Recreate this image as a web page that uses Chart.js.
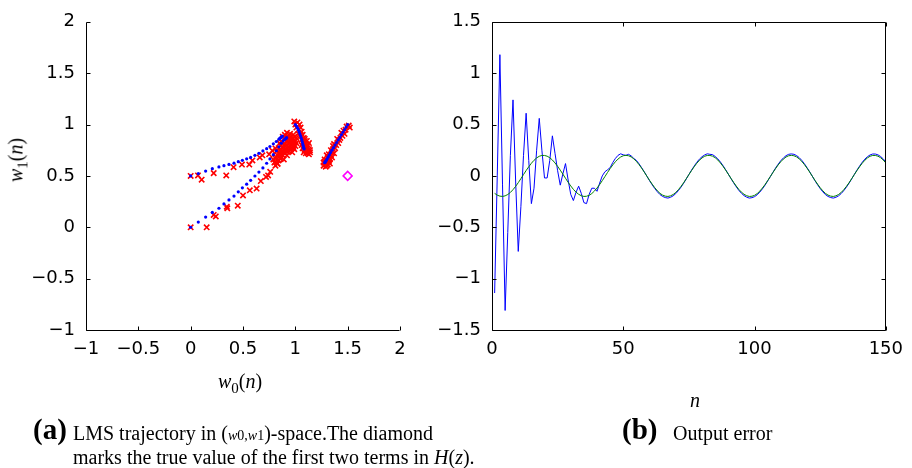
<!DOCTYPE html>
<html><head><meta charset="utf-8">
<script src="https://cdn.jsdelivr.net/npm/chart.js@4.4.0/dist/chart.umd.min.js"></script>
<style>
html,body{margin:0;padding:0;background:#fff;}
body{width:912px;height:468px;position:relative;overflow:hidden;font-family:"Liberation Serif","Times New Roman",serif;color:#000;}
canvas{position:absolute;left:0;top:0;}
.t{position:absolute;white-space:nowrap;color:#000;line-height:1;}
.sm{font-size:14px;}
</style></head><body>
<canvas id="c1" width="912" height="468"></canvas>
<canvas id="c2" width="912" height="468"></canvas>

<div class="t" style="left:18px;top:160px;transform:translate(-50%,-50%) rotate(-90deg);font-size:20px;"><i>w</i><sub style="font-size:15px">1</sub>(<i>n</i>)</div>
<div class="t" style="left:240px;top:383px;transform:translate(-50%,-50%);font-size:20px;"><i>w</i><sub style="font-size:15px">0</sub>(<i>n</i>)</div>
<div class="t" style="left:695px;top:400px;transform:translate(-50%,-50%);font-size:20px;"><i>n</i></div>

<div class="t" style="left:33px;top:415px;font-size:29px;font-weight:bold;">(a)</div>
<div class="t" style="left:73px;top:423px;font-size:20px;">LMS trajectory in (<span class="sm"><i>w</i>0,<i>w</i>1</span>)-space.The diamond</div>
<div class="t" style="left:73px;top:447px;font-size:20px;">marks the true value of the first two terms in <i>H</i>(<i>z</i>).</div>
<div class="t" style="left:622px;top:415px;font-size:29px;font-weight:bold;">(b)</div>
<div class="t" style="left:673px;top:423px;font-size:20px;">Output error</div>

<script>
// ---------- Panel (a): LMS trajectories in (w0, w1) space ----------
const axisTicksA = [-1, -0.5, 0, 0.5, 1, 1.5, 2];

const blueTrajA = [[0,0.5],[0.073,0.523],[0.143,0.547],[0.207,0.57],[0.27,0.587],[0.318,0.6],[0.366,0.612],[0.414,0.624],[0.455,0.638],[0.494,0.652],[0.535,0.666],[0.573,0.68],[0.614,0.7],[0.652,0.72],[0.69,0.743],[0.726,0.765],[0.757,0.786],[0.79,0.812],[0.818,0.835],[0.843,0.857],[0.852,0.865],[0.86,0.872],[0.866,0.878],[0.871,0.883],[0.876,0.888]];
const blueTrajB = [[0,0],[0.073,0.051],[0.143,0.099],[0.207,0.144],[0.27,0.185],[0.318,0.227],[0.366,0.266],[0.414,0.304],[0.455,0.345],[0.494,0.384],[0.535,0.419],[0.573,0.457],[0.614,0.499],[0.652,0.537],[0.69,0.578],[0.726,0.623],[0.757,0.665],[0.79,0.707],[0.818,0.745],[0.843,0.783],[0.866,0.818],[0.885,0.841],[0.9,0.856],[0.91,0.865],[0.917,0.872]];
const blueTrajC = [[1.0,1.0],[1.01,0.985],[1.02,0.968],[1.028,0.95],[1.036,0.93],[1.043,0.91],[1.05,0.89],[1.056,0.87],[1.062,0.85],[1.067,0.83],[1.071,0.81],[1.075,0.795],[1.078,0.78],[1.081,0.77],[1.083,0.762]];
const blueTrajD = [[1.5,1.0],[1.485,0.975],[1.47,0.95],[1.455,0.925],[1.44,0.9],[1.425,0.875],[1.41,0.85],[1.395,0.825],[1.38,0.8],[1.365,0.775],[1.35,0.75],[1.337,0.727],[1.325,0.705],[1.314,0.685],[1.304,0.667],[1.296,0.652],[1.289,0.641],[1.284,0.634],[1.28,0.628]];

const redTrajA = [[0,0.5],[0.07,0.505],[0.105,0.463],[0.22,0.527],[0.34,0.505],[0.41,0.585],[0.49,0.61],[0.56,0.61],[0.59,0.65],[0.66,0.68],[0.685,0.7],[0.75,0.71],[0.78,0.745],[0.81,0.767]];
const redTrajB = [[0,0],[0.153,0],[0.22,0.12],[0.24,0.105],[0.345,0.2],[0.35,0.185],[0.45,0.21],[0.5,0.31],[0.565,0.36],[0.63,0.377],[0.67,0.45],[0.72,0.49],[0.74,0.505],[0.76,0.54],[0.81,0.6],[0.83,0.617],[0.86,0.665]];
const redClusterAB = [[0.9,0.9],[0.93,0.89],[0.96,0.88],[0.98,0.86],[1.0,0.84],[0.95,0.85],[0.92,0.84],[0.89,0.86],[0.87,0.83],[0.9,0.81],[0.94,0.82],[0.97,0.8],[1.0,0.79],[1.01,0.82],[0.99,0.76],[0.96,0.77],[0.93,0.78],[0.91,0.76],[0.88,0.78],[0.86,0.8],[0.84,0.77],[0.87,0.74],[0.9,0.72],[0.94,0.74],[0.97,0.73],[0.92,0.7],[0.88,0.7],[0.85,0.72],[0.83,0.7],[0.86,0.67],[0.89,0.66],[0.84,0.65],[0.81,0.67],[0.8,0.63],[0.83,0.62],[0.79,0.66],[0.82,0.74],[0.85,0.82],[0.88,0.88],[0.92,0.92],[0.95,0.91],[0.98,0.9],[1.01,0.87],[0.99,0.83],[0.96,0.84],[0.91,0.87],[0.94,0.87],[0.97,0.83],[0.92,0.8],[0.95,0.79],[0.98,0.78],[0.89,0.75],[0.92,0.74],[0.95,0.76],[0.86,0.76],[0.88,0.73],[0.85,0.69],[0.87,0.71],[0.82,0.68],[0.84,0.72],[0.99,0.88],[0.93,0.86],[0.9,0.79],[0.96,0.81]];
const redTrajC = [[1.0,1.0],[0.99,1.03],[1.02,1.02],[1.04,1.0],[1.01,0.97],[1.03,0.95],[1.05,0.97],[1.06,0.93],[1.03,0.91],[1.05,0.89],[1.07,0.9],[1.08,0.87],[1.06,0.85],[1.09,0.84],[1.07,0.82],[1.1,0.81],[1.12,0.8],[1.08,0.79],[1.11,0.77],[1.13,0.76],[1.09,0.75],[1.12,0.74],[1.14,0.73],[1.1,0.72],[1.13,0.71],[1.07,0.77],[1.11,0.84],[1.13,0.82],[1.06,0.8],[1.08,0.73],[1.1,0.78],[1.12,0.72],[1.09,0.86],[1.11,0.79],[1.14,0.75]];
const redTrajD = [[1.51,0.99],[1.49,0.98],[1.52,0.97],[1.48,0.95],[1.46,0.94],[1.47,0.91],[1.44,0.92],[1.45,0.89],[1.43,0.87],[1.42,0.85],[1.4,0.86],[1.41,0.82],[1.39,0.8],[1.37,0.81],[1.38,0.77],[1.36,0.76],[1.35,0.73],[1.37,0.72],[1.34,0.7],[1.32,0.71],[1.33,0.67],[1.31,0.68],[1.3,0.65],[1.32,0.64],[1.28,0.66],[1.29,0.62],[1.31,0.61],[1.27,0.6],[1.29,0.59],[1.33,0.62],[1.35,0.68],[1.3,0.7],[1.27,0.63],[1.34,0.75],[1.36,0.79],[1.3,0.6],[1.28,0.64],[1.32,0.66]];
const trueValue = [[1.5,0.5]];

// ---------- Panel (b): output error ----------
const nStart = 1;
const errorSignal = [-1.14,0.0,1.18,-0.08,-1.31,-0.55,0.2,0.74,-0.05,-0.735,-0.3,0.2,0.61,0.15,-0.27,-0.12,0.25,0.56,0.25,-0.02,-0.02,0.15,0.39,0.22,0.05,-0.09,0.02,0.12,-0.04,-0.18,-0.24,-0.16,-0.1,-0.17,-0.26,-0.27,-0.18,-0.12,-0.12,-0.15,-0.07,0.0,0.04,0.06,0.08,0.13,0.17,0.2,0.215,0.205,0.2,0.21,0.195,0.17,
0.151,0.118,0.08,0.04,-0.003,-0.046,-0.086,-0.123,-0.155,-0.182,-0.2,-0.211,-0.216,-0.208,-0.194,-0.172,-0.143,-0.109,-0.071,-0.029,0.014,0.056,0.095,0.132,0.163,0.187,0.204,0.215,0.21,0.207,0.189,0.166,0.135,0.1,0.06,0.018,-0.025,-0.066,-0.105,-0.14,-0.169,-0.192,-0.207,-0.216,-0.212,-0.202,-0.184,-0.158,-0.126,-0.09,-0.049,-0.007,0.035,0.076,0.114,0.148,0.175,0.197,0.21,0.214,0.21,0.198,0.178,0.151,0.118,0.08,0.04,-0.003,-0.046,-0.086,-0.123,-0.155,-0.182,-0.2,-0.211,-0.216,-0.208,-0.194,-0.172,-0.143,-0.109,-0.071,-0.029,0.014,0.056,0.095,0.132,0.163,0.187,0.204,0.213,0.213,0.205,0.189,0.166,0.135];
const referenceSignal = [-0.170,-0.187,-0.197,-0.200,-0.194,-0.181,-0.161,-0.134,-0.102,-0.066,-0.027,0.013,0.052,0.089,0.123,0.152,0.175,0.191,0.199,0.199,0.192,0.177,0.155,0.126,0.093,0.056,0.017,-0.023,-0.062,-0.098,-0.131,-0.158,-0.179,-0.193,-0.200,-0.198,-0.189,-0.172,-0.148,-0.118,-0.084,-0.046,-0.007,0.033,0.071,0.107,0.138,0.164,0.184,0.196,0.200,0.196,0.185,0.166,0.141,0.110,0.075,0.037,-0.003,-0.043,-0.080,-0.115,-0.145,
-0.170,-0.187,-0.197,-0.200,-0.194,-0.181,-0.161,-0.134,-0.102,-0.066,-0.027,0.013,0.052,0.089,0.123,0.152,0.175,0.191,0.199,0.199,0.192,0.177,0.155,0.126,0.093,0.056,0.017,-0.023,-0.062,-0.098,-0.131,-0.158,-0.179,-0.193,-0.200,-0.198,-0.189,-0.172,-0.148,-0.118,-0.084,-0.046,-0.007,0.033,0.071,0.107,0.138,0.164,0.184,0.196,0.200,0.196,0.185,0.166,0.141,0.110,0.075,0.037,-0.003,-0.043,-0.080,-0.115,-0.145,
-0.170,-0.187,-0.197,-0.200,-0.194,-0.181,-0.161,-0.134,-0.102,-0.066,-0.027,0.013,0.052,0.089,0.123,0.152,0.175,0.191,0.199,0.199,0.192,0.177,0.155,0.126];
const axisTicksBx = [0, 50, 100, 150];
const axisTicksBy = [-1.5, -1, -0.5, 0, 0.5, 1, 1.5];

// ---------- helpers ----------
const pts = arr => arr.map(([x, y]) => ({x, y}));
const series = arr => arr.map((v, i) => ({x: nStart + i, y: v}));
const fmt = v => (v < 0 ? '\u2212' : '') + String(Math.abs(Math.round(v * 100) / 100));
const tickFont = {family: 'DejaVu Sans', size: 18};

const matAxes = {
  id: 'matAxes',
  afterDatasetsDraw(chart, args, o) {
    const {ctx, chartArea: a, scales} = chart;
    const xs = scales.x, ys = scales.y, L = o.len || 4;
    const r = v => Math.round(v) + 0.5;
    const l = r(a.left), rt = r(a.right - 1), t = r(a.top), b = r(a.bottom);
    ctx.save();
    ctx.strokeStyle = '#000'; ctx.lineWidth = 1;
    ctx.beginPath();
    ctx.moveTo(l, t); ctx.lineTo(l, b); ctx.lineTo(rt, b);
    if (o.box) { ctx.lineTo(rt, t); ctx.lineTo(l, t); }
    xs.ticks.forEach(tk => {
      const p = r(xs.getPixelForValue(tk.value));
      ctx.moveTo(p, b); ctx.lineTo(p, b - L);
      if (o.box) { ctx.moveTo(p, t); ctx.lineTo(p, t + L); }
    });
    ys.ticks.forEach(tk => {
      const p = r(ys.getPixelForValue(tk.value));
      ctx.moveTo(l, p); ctx.lineTo(l + L, p);
      if (o.box) { ctx.moveTo(rt, p); ctx.lineTo(rt - L, p); }
    });
    ctx.stroke();
    ctx.restore();
  }
};

function scaleOpts(min, max, ticksArr, isX, fitSize, pad) {
  return {
    type: 'linear', min, max,
    afterBuildTicks: s => { s.ticks = ticksArr.map(v => ({value: v})); },
    ticks: {font: tickFont, color: '#000', padding: pad, callback: fmt, maxRotation: 0, autoSkip: false},
    grid: {display: false, drawTicks: false},
    border: {display: false},
    afterFit: s => { if (isX) s.height = fitSize; else s.width = fitSize; }
  };
}

const blueDot = {pointStyle: 'circle', pointRadius: 1.6, backgroundColor: '#0000ff', borderColor: '#0000ff', borderWidth: 0, showLine: false};
const redX = {pointStyle: 'crossRot', pointRadius: 3.8, borderColor: '#ff0000', backgroundColor: '#ff0000', borderWidth: 1.6, showLine: false};

new Chart(document.getElementById('c1'), {
  type: 'scatter',
  data: {datasets: [
    Object.assign({data: pts(blueTrajA)}, blueDot),
    Object.assign({data: pts(blueTrajB)}, blueDot),
    Object.assign({data: pts(blueTrajC)}, blueDot),
    Object.assign({data: pts(blueTrajD)}, blueDot),
    {data: pts(trueValue), pointStyle: 'rectRot', pointRadius: 4.5, borderColor: '#ff00ff', backgroundColor: 'rgba(0,0,0,0)', borderWidth: 1.5},
    Object.assign({data: pts(redTrajA)}, redX),
    Object.assign({data: pts(redTrajB)}, redX),
    Object.assign({data: pts(redClusterAB)}, redX),
    Object.assign({data: pts(redTrajC)}, redX),
    Object.assign({data: pts(redTrajD)}, redX)
  ]},
  options: {
    responsive: false, animation: false,
    layout: {padding: {left: 0, top: 17, right: 512, bottom: 98}},
    plugins: {legend: {display: false}, tooltip: {enabled: false}, matAxes: {len: 4, box: false}},
    scales: {
      x: scaleOpts(-1, 2, axisTicksA, true, 40, 9),
      y: scaleOpts(-1, 2, axisTicksA, false, 86, 11)
    }
  },
  plugins: [matAxes]
});

new Chart(document.getElementById('c2'), {
  type: 'line',
  data: {datasets: [
    {data: series(referenceSignal), borderColor: '#008000', borderWidth: 1, pointRadius: 0, tension: 0, fill: false},
    {data: series(errorSignal), borderColor: '#0000ff', borderWidth: 1, pointRadius: 0, tension: 0, fill: false}
  ]},
  options: {
    responsive: false, animation: false,
    layout: {padding: {left: 432, top: 17, right: 21, bottom: 98}},
    plugins: {legend: {display: false}, tooltip: {enabled: false}, matAxes: {len: 4, box: true}},
    scales: {
      x: scaleOpts(0, 150, axisTicksBx, true, 40, 9),
      y: scaleOpts(-1.5, 1.5, axisTicksBy, false, 60, 11)
    }
  },
  plugins: [matAxes]
});
</script>
</body></html>
